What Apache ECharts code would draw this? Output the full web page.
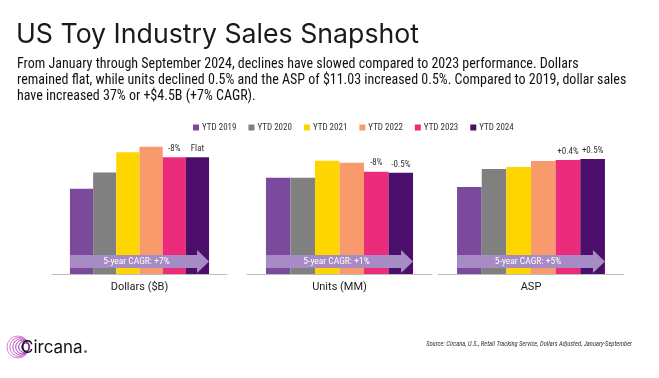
<!DOCTYPE html>
<html><head><meta charset="utf-8">
<script src="https://cdn.jsdelivr.net/npm/echarts@6/dist/echarts.min.js"></script>
<style>html,body{margin:0;padding:0;background:#fff}#c{width:659px;height:378px}</style>
</head><body><div id="c"></div>
<script>
// ---- data ----
const categories = ['Dollars ($B)', 'Units (MM)', 'ASP'];
const seriesNames = ['YTD 2019', 'YTD 2020', 'YTD 2021', 'YTD 2022', 'YTD 2023', 'YTD 2024'];
const dollars = [12.2, 14.5, 17.4, 18.2, 16.7, 16.7];
const units = [1440, 1440, 1695, 1665, 1530, 1514];
const asp = [8.34, 10.07, 10.26, 10.84, 10.93, 11.03];
const dollarsNotes = ['', '', '', '', '-8%', 'Flat'];
const unitsNotes = ['', '', '', '', '-8%', '-0.5%'];
const aspNotes = ['', '', '', '', '+0.4%', '+0.5%'];
const cagrLabels = ['5-year CAGR: +7%', '5-year CAGR: +1%', '5-year CAGR: +5%'];
const axisMax = [19.3, 2020, 12.95];
const titleText = 'US Toy Industry Sales Snapshot';
const subtitleText = 'From January through September 2024, declines have slowed compared to 2023 performance. Dollars\nremained flat, while units declined 0.5% and the ASP of $11.03 increased 0.5%. Compared to 2019, dollar sales\nhave increased 37% or +$4.5B (+7% CAGR).';
const sourceText = 'Source: Circana, U.S., Retail Tracking Service, Dollars Adjusted, January-September';

// ---- style ----
const colors = ['#7b4a9c', '#808080', '#fdd600', '#f99a6c', '#ec2c7a', '#4b0f6b'];
const COND = "'Roboto Condensed','Liberation Sans Narrow','DejaVu Sans Condensed',Roboto,sans-serif";
const panels = [{left: 52, width: 175}, {left: 247, width: 185}, {left: 438, width: 186}];
const gridTop = 139, gridH = 135, H = 378;
const gapFrac = 0.205;
const values = [dollars, units, asp];
const notes = [dollarsNotes, unitsNotes, aspNotes];

const chart = echarts.init(document.getElementById('c'), null, {renderer: 'canvas'});

const grid = [], xAxis = [], yAxis = [], series = [], graphic = [];
panels.forEach((p, i) => {
  grid.push({left: p.left, width: p.width, top: gridTop, bottom: H - gridTop - gridH});
  xAxis.push({type: 'category', gridIndex: i, data: [categories[i]],
    axisLine: {lineStyle: {color: '#bdbdbd', width: 1}}, axisTick: {show: false},
    axisLabel: {color: '#222', fontSize: 11, fontFamily: 'Roboto, sans-serif', margin: 8}});
  yAxis.push({type: 'value', gridIndex: i, min: 0, max: axisMax[i], show: false, splitLine: {show: false}});
  seriesNames.forEach((n, j) => {
    series.push({type: 'bar', name: n, xAxisIndex: i, yAxisIndex: i,
      data: [values[i][j]], barGap: '0%', barCategoryGap: (gapFrac * 100) + '%',
      itemStyle: {color: colors[j]}, emphasis: {disabled: true},
      label: {show: notes[i][j] !== '', position: 'top', distance: 4, formatter: () => notes[i][j],
        fontSize: 9, color: '#333', fontFamily: COND}});
  });
  // CAGR arrow annotation
  const x0 = p.left + p.width * gapFrac / 2;
  const x1 = p.left + p.width * (1 - gapFrac / 2);
  const bt = 255, bb = 268, ht = 250, hb = 273, hl = 12;
  graphic.push({type: 'polygon', z: 100, shape: {points: [[x0, bt], [x1 - hl, bt], [x1 - hl, ht], [x1, (ht + hb) / 2], [x1 - hl, hb], [x1 - hl, bb], [x0, bb]]},
    style: {fill: '#a78bc5'}});
  graphic.push({type: 'text', z: 101, x: (x0 + x1) / 2 - 3, y: (bt + bb) / 2,
    style: {text: cagrLabels[i], fill: '#fff', font: "9.5px " + COND, textAlign: 'center', textVerticalAlign: 'middle'}});
});

// logo
const ringCols = ['#e27fdb', '#d068d2', '#bd52c7', '#a83fba', '#9231a9', '#7c2698'];
for (let k = 0; k < 6; k++) {
  graphic.push({type: 'circle', z: 50, shape: {cx: 18 + k * 1.5, cy: 347, r: 11 - k * 1.4},
    style: {fill: 'none', stroke: ringCols[k], lineWidth: 1}});
}
graphic.push({type: 'text', z: 60, x: 21, y: 348, style: {
  text: '{a|Circana}{b|.}', textVerticalAlign: 'middle',
  rich: {a: {fill: '#111', font: '17px Inter, sans-serif'}, b: {fill: '#a034b4', font: 'bold 17px Inter, sans-serif'}}}});

chart.setOption({
  animation: false,
  backgroundColor: '#fff',
  title: [
    {text: titleText, left: 11, top: 16, textStyle: {fontFamily: 'Inter, sans-serif', fontWeight: 'normal', fontSize: 26.7, color: '#1a1a1a'}},
    {text: subtitleText, left: 12, top: 51, textStyle: {fontFamily: COND, fontWeight: 'normal', fontSize: 14, lineHeight: 16, color: '#111'}},
    {text: sourceText, right: 22, top: 336, textStyle: {fontFamily: COND, fontStyle: 'italic', fontWeight: 'normal', fontSize: 6.5, color: '#333'}}
  ],
  legend: {data: seriesNames, left: 188, top: 118, itemWidth: 6, itemHeight: 6, itemGap: 12,
    icon: 'rect', textStyle: {fontSize: 9, color: '#333', fontFamily: COND, padding: [0, 0, 0, -2]}},
  grid, xAxis, yAxis, series, graphic
});
</script></body></html>
